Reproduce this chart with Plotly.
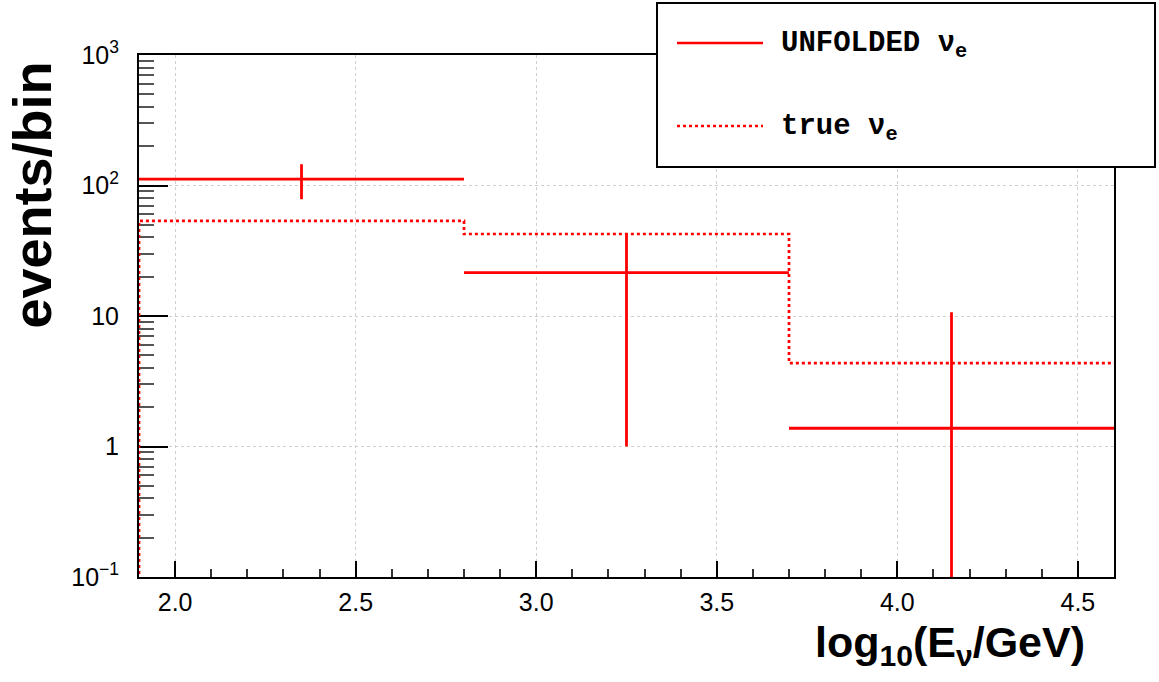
import plotly.graph_objects as go

# Binning in log10(E/GeV)
bin_edges = [1.9, 2.8, 3.7, 4.6]
bin_centers = [2.35, 3.25, 4.15]
bin_halfwidths = [0.45, 0.45, 0.45]

# Unfolded nu_e spectrum with statistical errors
unfolded_values = [112.0, 21.5, 1.38]
unfolded_errors = [33.5, 20.5, 9.3]

# True nu_e spectrum
true_values = [53.5, 42.5, 4.36]

# Axis ticks
x_major = [2.0, 2.5, 3.0, 3.5, 4.0, 4.5]
x_major_text = ["2.0", "2.5", "3.0", "3.5", "4.0", "4.5"]
x_minor = [1.9, 2.1, 2.2, 2.3, 2.4, 2.6, 2.7, 2.8, 2.9, 3.1, 3.2, 3.3, 3.4,
           3.6, 3.7, 3.8, 3.9, 4.1, 4.2, 4.3, 4.4, 4.6]
y_major = [0.1, 1, 10, 100, 1000]
y_major_text = ["10<sup>\u22121</sup>", "1", "10", "10<sup>2</sup>", "10<sup>3</sup>"]
y_minor = [k * 10.0 ** e for e in (-1, 0, 1, 2) for k in range(2, 10)]

# Figure geometry (pixels)
W, H = 1159, 682
L, R, T, B = 139, 45, 55, 105
PW, PH = W - L - R, H - T - B


def px_x(px):
    return (px - L) / PW


def px_y(py):
    return (H - B - py) / PH


RED = "#ff0000"
FLOOR = 1e-3  # below the visible y range: histogram rises from the axis

fig = go.Figure()

# True spectrum: dotted step histogram
true_x = [bin_edges[0]] + bin_edges
true_y = [FLOOR] + true_values + [true_values[-1]]
fig.add_trace(go.Scatter(
    x=true_x, y=true_y, mode="lines", line_shape="hv",
    line=dict(color=RED, width=2.7, dash="dot"),
    hoverinfo="skip", showlegend=False,
))

# Unfolded spectrum: bin-width horizontal bars with vertical error bars
fig.add_trace(go.Scatter(
    x=bin_centers, y=unfolded_values, mode="markers",
    marker=dict(size=0.1, color=RED),
    error_x=dict(type="data", array=bin_halfwidths, symmetric=True,
                 color=RED, thickness=2.8, width=0),
    error_y=dict(type="data", array=unfolded_errors, symmetric=True,
                 color=RED, thickness=2.8, width=0),
    showlegend=False,
))

axis_common = dict(
    showline=True, linecolor="black", linewidth=2, mirror=True,
    ticks="inside", tickcolor="black", tickwidth=1.5,
    showgrid=True, gridcolor="#cfcfcf", griddash="dot", gridwidth=1,
    zeroline=False, layer="below traces",
    tickfont=dict(family="Liberation Sans", size=25, color="black"),
)

fig.update_layout(
    width=W, height=H,
    margin=dict(l=L, r=R, t=T, b=B, pad=0),
    paper_bgcolor="white", plot_bgcolor="white",
    xaxis=dict(
        range=[1.9, 4.6], tickmode="array", tickvals=x_major, ticktext=x_major_text,
        ticklen=16, ticklabelstandoff=2,
        minor=dict(tickmode="array", tickvals=x_minor, ticks="inside",
                   ticklen=8, tickcolor="#333333", tickwidth=1.5, showgrid=False),
        **axis_common,
    ),
    yaxis=dict(
        type="log", range=[-1, 3], tickmode="array", tickvals=y_major,
        ticktext=y_major_text, ticklen=29, ticklabelstandoff=13,
        minor=dict(tickmode="array", tickvals=y_minor, ticks="inside",
                   ticklen=15, tickcolor="#555555", tickwidth=1.5, showgrid=False),
        **axis_common,
    ),
)

# Axis titles
fig.add_annotation(
    text="log<sub>10</sub>(E<sub>\u03bd</sub>/GeV)",
    xref="paper", yref="paper", x=px_x(1087), y=px_y(645),
    xanchor="right", yanchor="middle", showarrow=False,
    font=dict(family="Liberation Sans", size=43, weight="bold", color="black"),
)
fig.add_annotation(
    text="events/bin", textangle=-90,
    xref="paper", yref="paper", x=px_x(31), y=px_y(60),
    xanchor="center", yanchor="top", showarrow=False,
    font=dict(family="Liberation Sans", size=54, weight="bold", color="black"),
)

# Legend box
fig.add_shape(type="rect", xref="paper", yref="paper",
              x0=px_x(657), x1=px_x(1155), y0=px_y(167), y1=px_y(3),
              line=dict(color="black", width=2), fillcolor="white")
fig.add_shape(type="line", xref="paper", yref="paper",
              x0=px_x(677), x1=px_x(763), y0=px_y(43), y1=px_y(43),
              line=dict(color=RED, width=2.7))
fig.add_shape(type="line", xref="paper", yref="paper",
              x0=px_x(677), x1=px_x(763), y0=px_y(126), y1=px_y(126),
              line=dict(color=RED, width=2.7, dash="dot"))
legend_font = dict(family="Liberation Mono", size=29, weight="bold", color="black")
fig.add_annotation(text="UNFOLDED \u03bd<sub>e</sub>", xref="paper", yref="paper",
                   x=px_x(779), y=px_y(45), xanchor="left", yanchor="middle",
                   showarrow=False, font=legend_font)
fig.add_annotation(text="true \u03bd<sub>e</sub>", xref="paper", yref="paper",
                   x=px_x(779), y=px_y(128), xanchor="left", yanchor="middle",
                   showarrow=False, font=legend_font)

fig.write_html("out.html")
